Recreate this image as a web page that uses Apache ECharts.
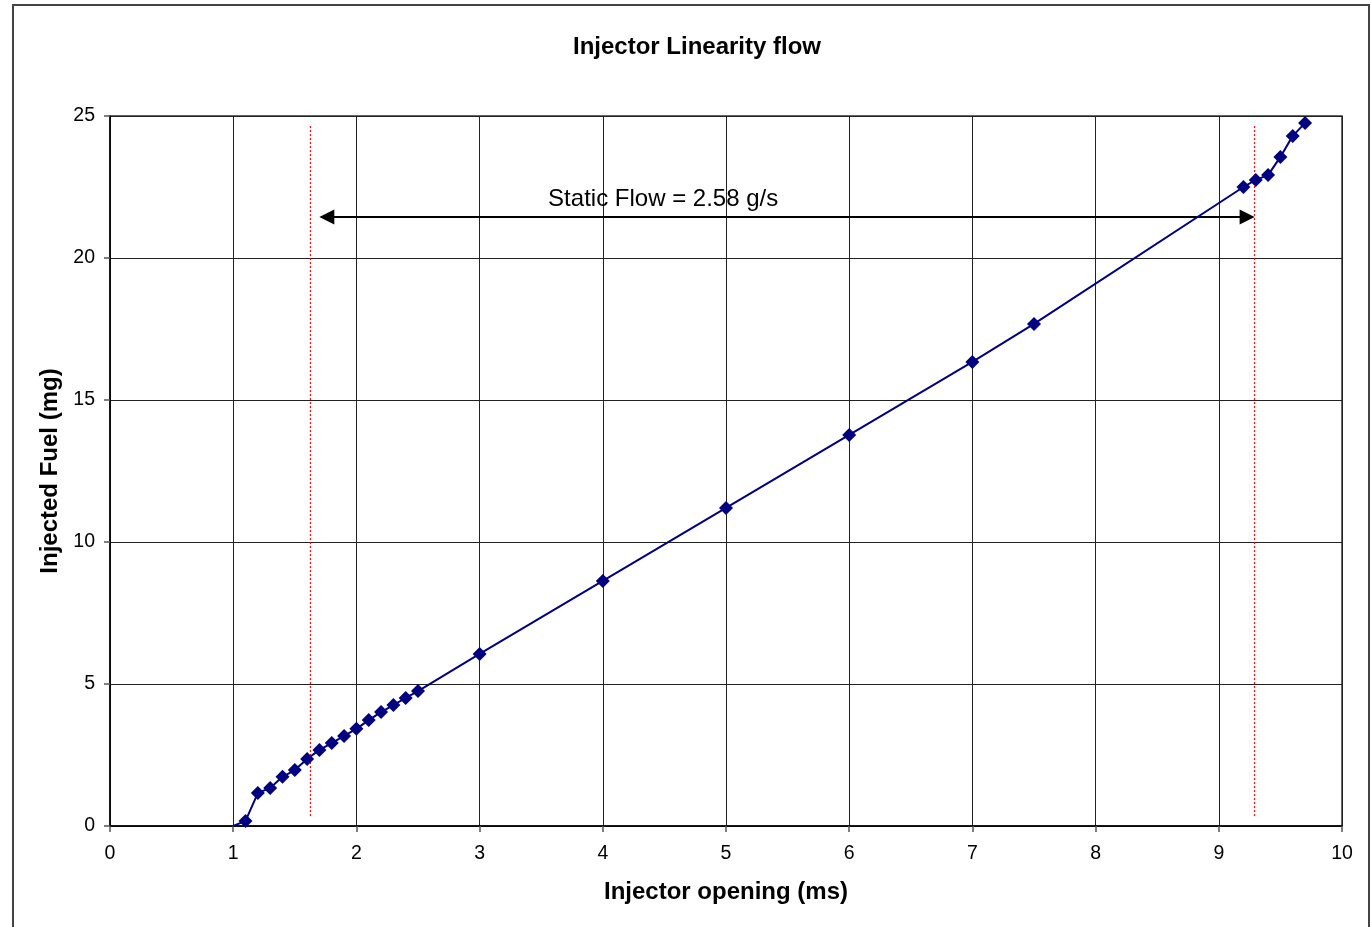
<!DOCTYPE html>
<html>
<head>
<meta charset="utf-8">
<script src="https://cdn.jsdelivr.net/npm/echarts@6/dist/echarts.min.js"></script>
<style>
  html, body { margin: 0; padding: 0; background: #fff; }
  #chart { width: 1371px; height: 927px; }
</style>
</head>
<body>
<div id="chart"></div>
<script>
// injector opening (ms) vs injected fuel (mg)
var openingMs = [1.0, 1.1, 1.2, 1.3, 1.4, 1.5, 1.6, 1.7, 1.8, 1.9, 2.0, 2.1, 2.2, 2.3, 2.4, 2.5,
                 3, 4, 5, 6, 7, 7.5, 9.2, 9.3, 9.4, 9.5, 9.6, 9.7];
var fuelMg = [0, 0.18, 1.16, 1.34, 1.73, 1.97, 2.36, 2.68, 2.92, 3.17, 3.42, 3.73, 4.01, 4.26, 4.51, 4.75,
              6.06, 8.63, 11.2, 13.77, 16.34, 17.68, 22.5, 22.75, 22.92, 23.56, 24.3, 24.75];

// linear region markers
var lowLimit = [[1.627, 0.35], [1.627, 24.7]];
var highLimit = [[9.29, 0.35], [9.29, 24.7]];
var arrowFrom = [1.76, 21.44];
var arrowTo = [9.23, 21.44];
var flowLabel = 'Static Flow = 2.58 g/s';
var flowLabelAt = [4.49, 22.08];

var chart = echarts.init(document.getElementById('chart'));

var fuelData = openingMs.map(function (x, i) {
  var p = { value: [x, fuelMg[i]] };
  if (i === 0) p.symbolSize = 0;
  return p;
});

var font = 'Liberation Sans, Arial, sans-serif';

var option = {
  animation: false,
  backgroundColor: '#fff',
  title: {
    text: 'Injector Linearity flow',
    left: 692,
    textAlign: 'center',
    top: 30,
    textStyle: { fontFamily: font, fontSize: 24, fontWeight: 'bold', color: '#000' }
  },
  graphic: [{
    type: 'rect',
    shape: { x: 13, y: 5, width: 1356, height: 1000 },
    style: { fill: 'none', stroke: '#444', lineWidth: 2 },
    silent: true
  }],
  grid: {
    left: 110, right: 29, top: 116, bottom: 101,
    show: true, borderColor: '#333', borderWidth: 1.5
  },
  xAxis: {
    type: 'value', min: 0, max: 10, interval: 1,
    name: 'Injector opening (ms)', nameLocation: 'middle', nameGap: 54,
    nameTextStyle: { fontFamily: font, fontSize: 24, fontWeight: 'bold', color: '#000' },
    axisLine: { show: true, lineStyle: { color: '#000', width: 1.5 } },
    axisTick: { show: true, length: 6, lineStyle: { color: '#555', width: 1.5 } },
    axisLabel: { margin: 18, fontFamily: font, fontSize: 19.5, color: '#000' },
    splitLine: { show: true, lineStyle: { color: '#222', width: 1 } }
  },
  yAxis: {
    type: 'value', min: 0, max: 25, interval: 5,
    name: 'Injected Fuel (mg)', nameLocation: 'middle', nameGap: 48,
    nameTextStyle: { fontFamily: font, fontSize: 24, fontWeight: 'bold', color: '#000' },
    axisLine: { show: true, lineStyle: { color: '#000', width: 1.5 } },
    axisTick: { show: true, length: 6, lineStyle: { color: '#555', width: 1.5 } },
    axisLabel: { margin: 15, fontFamily: font, fontSize: 19.5, color: '#000' },
    splitLine: { show: true, lineStyle: { color: '#222', width: 1 } }
  },
  series: [
    {
      name: 'fuel',
      type: 'line',
      data: fuelData,
      symbol: 'diamond',
      symbolSize: 14,
      lineStyle: { color: '#000080', width: 2 },
      itemStyle: { color: '#000080' },
      z: 5
    },
    {
      type: 'line', data: lowLimit, symbol: 'none',
      itemStyle: { color: '#ff0000' },
      lineStyle: { color: '#ff0000', width: 1.2, type: [2, 2] }, z: 3
    },
    {
      type: 'line', data: highLimit, symbol: 'none',
      itemStyle: { color: '#ff0000' },
      lineStyle: { color: '#ff0000', width: 1.2, type: [2, 2] }, z: 3
    },
    {
      type: 'line', data: [], symbol: 'none',
      markLine: {
        silent: true,
        symbol: ['triangle', 'triangle'],
        symbolSize: [15, 15],
        label: { show: false },
        lineStyle: { color: '#000', width: 2, type: 'solid' },
        itemStyle: { color: '#000' },
        data: [[{ coord: arrowFrom }, { coord: arrowTo }]]
      },
      z: 4
    },
    {
      type: 'line', data: [flowLabelAt], symbol: 'circle', symbolSize: 0,
      itemStyle: { color: '#000', opacity: 1 },
      label: {
        show: true, position: 'inside', formatter: flowLabel,
        fontFamily: font, fontSize: 24, color: '#000', textBorderWidth: 0
      },
      z: 6
    }
  ]
};

chart.setOption(option);
</script>
</body>
</html>
